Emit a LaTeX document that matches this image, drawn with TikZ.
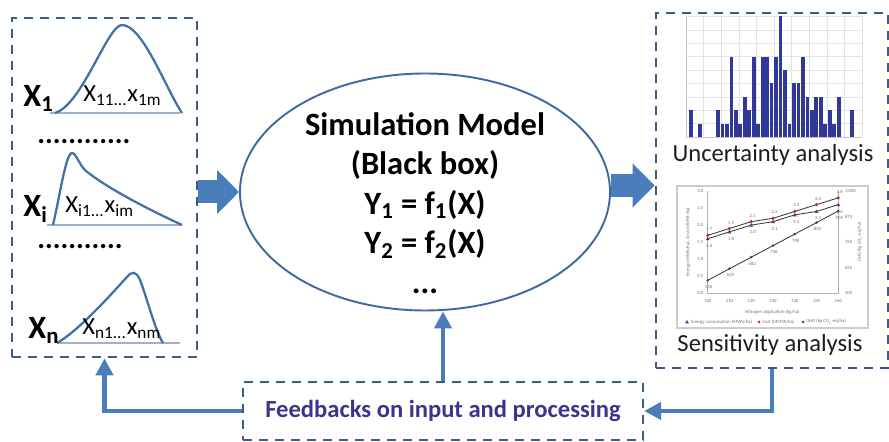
\documentclass[tikz,border=0pt]{standalone}
\usepackage{fontspec}
\setmainfont{Carlito}
\usetikzlibrary{arrows.meta,shapes.geometric}

\definecolor{boxblue}{HTML}{3E5A86}
\definecolor{arrowblue}{HTML}{4A7EBB}
\definecolor{modelblue}{HTML}{3F6AA1}
\definecolor{curveblue}{HTML}{4471A8}
\definecolor{baseblue}{HTML}{9FB2CA}
\definecolor{textnavy}{HTML}{3B348F}
\definecolor{barnavy}{HTML}{30389A}
\definecolor{captiongray}{HTML}{1E1E1E}
\definecolor{dotred}{HTML}{B0302E}
\definecolor{dotpurple}{HTML}{5B3598}

\begin{document}
\begin{tikzpicture}[
    every node/.style={inner sep=0pt},
    dashedbox/.style={draw=boxblue, line width=1.6pt, dash pattern=on 0.18cm off 0.14cm},
    fatarrow/.style={draw=arrowblue, line width=0.46cm, -{Triangle[length=0.44cm,width=0.86cm]}},
    thinarrow/.style={draw=arrowblue, line width=0.09cm, -{Triangle[length=0.34cm,width=0.34cm]}},
    pdfcurve/.style={draw=curveblue, line width=1.3pt},
    axisrule/.style={draw=baseblue, line width=0.6pt},
    bigx/.style={font=\fontsize{18.5}{20}\selectfont\bfseries, anchor=base west},
    valrow/.style={font=\fontsize{14}{16}\selectfont, anchor=base west},
    dotrow/.style={font=\fontsize{16.5}{18}\selectfont\bfseries, anchor=base west},
    caption/.style={font=\fontsize{14}{16}\selectfont, text=captiongray, anchor=base},
    chartfont/.style={font=\fontsize{2.7}{3.2}\selectfont, text=black!55},
    gridline/.style={draw=gray!22, line width=0.3pt},
    chartline/.style={draw=black!75, line width=0.5pt}
]
\useasboundingbox (0,0) rectangle (17.78,8.84);

% Main blocks
\node[dashedbox, minimum width=3.70cm, minimum height=6.78cm] (inputs) at (2.09,5.09) {};
\node[draw=modelblue, line width=1.1pt, ellipse, minimum width=7.40cm, minimum height=4.74cm] (model) at (8.50,5.00) {};
\node[dashedbox, minimum width=4.64cm, minimum height=7.10cm] (outputs) at (15.44,5.03) {};
\node[dashedbox, line width=1.3pt, minimum width=8.0cm, minimum height=1.16cm,
      font=\fontsize{14}{16}\selectfont\bfseries, text=textnavy] (feedback) at (8.86,0.62)
      {Feedbacks on input and processing};

\node[font=\fontsize{18.5}{22.5}\selectfont\bfseries, align=center] (modeltext) at (8.50,4.78)
    {Simulation Model\\(Black box)\\Y\textsubscript{1} = f\textsubscript{1}(X)\\Y\textsubscript{2} = f\textsubscript{2}(X)\\...};

% Input distributions
\draw[axisrule] (1.00,6.58) -- (3.60,6.58);
\draw[pdfcurve] (1.10,6.58) .. controls (1.65,6.75) and (2.15,8.34) .. (2.44,8.34)
    .. controls (2.85,8.34) and (3.30,7.10) .. (3.64,6.58);
\node[bigx] (x1) at (0.46,6.70) {X\textsubscript{1}};
\node[valrow] (x1vals) at (1.66,6.80) {X\textsubscript{11...}x\textsubscript{1m}};
\node[dotrow] (dots1) at (0.74,5.96) {............};

\draw[axisrule] (0.94,4.34) -- (3.64,4.34);
\draw[pdfcurve] (1.06,4.34) .. controls (1.20,4.94) and (1.32,5.78) .. (1.44,5.78)
    .. controls (1.52,5.78) and (1.60,5.515) .. (1.72,5.42)
    .. controls (2.20,5.04) and (3.00,4.64) .. (3.64,4.34);
\node[bigx] (xi) at (0.46,4.50) {X\textsubscript{i}};
\node[valrow] (xivals) at (1.30,4.58) {X\textsubscript{i1...}x\textsubscript{im}};
\node[dotrow] (dots2) at (0.74,3.86) {...........};

\draw[axisrule] (1.14,1.98) -- (3.60,1.98);
\draw[pdfcurve] (1.14,1.98) .. controls (1.60,2.24) and (2.30,3.04) .. (2.54,3.30)
    .. controls (2.62,3.40) and (2.72,3.44) .. (2.80,3.24)
    .. controls (2.92,2.94) and (3.10,2.24) .. (3.26,1.98);
\node[bigx] (xn) at (0.56,2.06) {X\textsubscript{n}};
\node[valrow] (xnvals) at (1.64,2.14) {X\textsubscript{n1...}x\textsubscript{nm}};

% Histogram of the outputs
\begin{scope}[shift={(13.72,6.10)}]
  \draw[gridline, xstep=0.352, ystep=0.268] (0,0) grid (3.52,2.42);
  \draw[draw=gray!45, line width=0.4pt] (0,2.42) -- (0,0) -- (3.52,0);
  \foreach \k/\n in {0/2, 2/1, 6/2, 7/1, 8/1, 9/6, 10/2, 11/1, 12/3, 13/2, 14/6, 15/1,
                     16/6, 17/6, 18/4, 19/6, 20/9, 21/5, 22/1, 23/4, 24/4, 25/6, 26/3,
                     27/2, 28/3, 29/3, 30/1, 31/2, 32/1, 33/3, 36/2}
    \fill[barnavy] ({0.066+0.0894*\k},0) rectangle ++(0.074,{0.268*\n});
\end{scope}
\node[caption] (uncert) at (15.46,5.60) {Uncertainty analysis};

% Sensitivity chart
\draw[draw=gray!40, fill=white, line width=0.6pt] (13.54,2.28) rectangle (17.36,5.12);
\begin{scope}[shift={(14.154,2.974)}]
  \draw[draw=gray!60, line width=0.4pt] (0,2.046) -- (0,0) -- (2.612,0) -- (2.612,2.046);
  \foreach \v [count=\j from 0] in {0.0,0.5,1.0,1.5,2.0,2.5,3.0}
    \node[chartfont, anchor=east] at (-0.08,{0.341*\j}) {\v};
  \foreach \v [count=\j from 0] in {500,625,750,875,{1,000}}
    \node[chartfont, anchor=west] at (2.74,{0.5115*\j}) {\v};
  \foreach \v [count=\i from 0] in {100,110,120,130,140,150,160}
    \node[chartfont] at ({0.4353*\i},-0.15) {\v};
  % cost
  \draw[chartline] (0,1.159) -- (0.435,1.296) -- (0.871,1.432) -- (1.306,1.500)
      -- (1.741,1.637) -- (2.177,1.773) -- (2.612,1.910);
  \foreach \v [count=\i from 0] in {1.7,1.9,2.1,2.2,2.4,2.6,2.8} {
    \fill[dotred] ({0.4353*\i},{0.682*\v}) circle (0.035);
    \node[chartfont] at ({0.4353*\i+0.03},{0.682*\v+0.12}) {\v};
  }
  % energy
  \draw[chartline] (0,1.091) -- (0.435,1.228) -- (0.871,1.364) -- (1.306,1.432)
      -- (1.741,1.569) -- (2.177,1.637) -- (2.612,1.773);
  \foreach \v [count=\i from 0] in {1.6,1.8,2.0,2.1,2.3,2.4,2.6} {
    \fill[dotpurple] ({0.4353*\i-0.04},{0.682*\v-0.03}) -- ++(0.08,0) -- ++(-0.04,0.07) -- cycle;
    \node[chartfont] at ({0.4353*\i+0.03},{0.682*\v-0.14}) {\v};
  }
  % emissions
  \draw[chartline] (0,0.260) -- (2.612,1.646);
  \foreach \v [count=\i from 0] in {510,625,682,736,798,852,905} {
    \fill[black!70] ({0.4353*\i},{0.260+0.231*\i}) circle (0.03);
    \node[chartfont] at ({0.4353*\i+0.02},{0.260+0.231*\i-0.13}) {\v};
  }
\end{scope}
\node[chartfont] (xtitle) at (15.45,2.59) {Nitrogen application (kg/ha)};
\node[chartfont, rotate=90] (ltitle) at (13.76,4.00) {Energy (MWh/ha), Cost (MMYR/ha)};
\node[chartfont, rotate=90] (rtitle) at (17.20,4.00) {GHG (kg CO\textsubscript{2}-eq/ha)};
\fill[dotpurple] (13.70,2.37) -- ++(0.08,0) -- ++(-0.04,0.07) -- cycle;
\node[chartfont, anchor=west] (leg1) at (13.82,2.40) {Energy consumption (MWh/ha)};
\fill[dotred] (15.18,2.40) circle (0.03);
\node[chartfont, anchor=west] (leg2) at (15.24,2.40) {Cost (MMYR/ha)};
\fill[black!70] (16.06,2.40) circle (0.03);
\node[chartfont, anchor=west] (leg3) at (16.12,2.40) {GHG (kg CO\textsubscript{2}-eq/ha)};
\node[caption] (sensit) at (15.40,1.80) {Sensitivity analysis};

% Flow between the blocks
\draw[fatarrow] (inputs.east |- model.west) -- (model.west);
\draw[fatarrow] (model.2.5) -- (outputs.west |- model.2.5);
\draw[thinarrow] (feedback.north) -- (feedback.north |- model.south);
\draw[thinarrow] (feedback.west) -| (inputs.south);
\draw[thinarrow] (outputs.south) |- (feedback.east);

\end{tikzpicture}
\end{document}
